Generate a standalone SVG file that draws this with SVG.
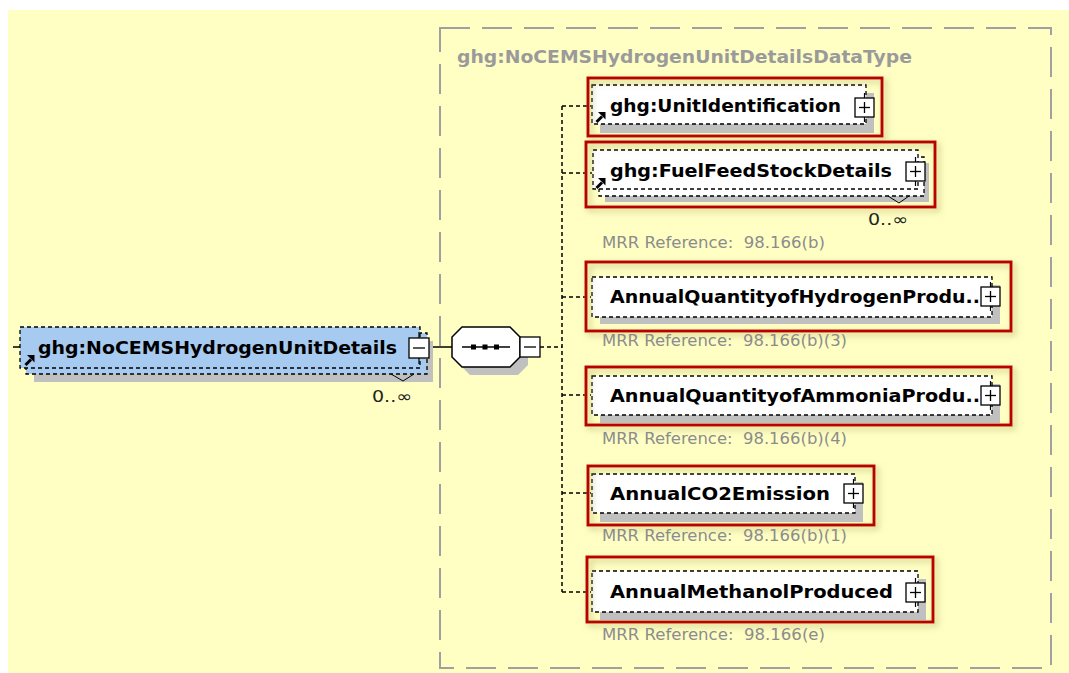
<svg xmlns="http://www.w3.org/2000/svg" xmlns:xlink="http://www.w3.org/1999/xlink" width="1069" height="673" viewBox="0 0 1069 673">
<style>
.bg{fill:#ffffc4}
.dtbox{fill:none;stroke:#a0a0a0;stroke-width:2;stroke-dasharray:30 12}
.hdr{font-family:"DejaVu Sans",Verdana,sans-serif;font-weight:bold;font-size:18px;fill:#9a9a9a}
.lbl{font-family:"DejaVu Sans",Verdana,sans-serif;font-weight:bold;font-size:18.5px;fill:#000}
.ref{font-family:"DejaVu Sans",Verdana,sans-serif;font-size:15.5px;fill:#8c8c8c;white-space:pre}
.occ{font-family:"DejaVu Sans",Verdana,sans-serif;font-size:16px;fill:#222}
.elem{fill:#fff;stroke:#000;stroke-width:1.3;stroke-dasharray:4 3}
.blue{fill:#a6caf0;stroke:#000;stroke-width:1.3;stroke-dasharray:4 3}
.shadow{fill:#c0c0c0}
.red{fill:none;stroke:#bb0000;stroke-width:3;filter:url(#glow)}
.conn{fill:none;stroke:#000;stroke-width:1.5;stroke-dasharray:4 3}
.solid{fill:none;stroke:#000;stroke-width:1.5}
.vmark{fill:none;stroke:#000;stroke-width:1}
</style>
<defs>
<filter id="glow" x="-10%" y="-20%" width="120%" height="150%">
<feDropShadow dx="3" dy="3" stdDeviation="3" flood-color="#a09850" flood-opacity="0.55"/>
</filter>
<g id="plus">
<line x1="9.5" y1="-5" x2="9.5" y2="24" stroke="#000" stroke-width="1.2"/>
<rect x="0" y="0" width="19" height="19" fill="#fff" stroke="#000" stroke-width="1.3"/>
<line x1="4" y1="9.5" x2="15" y2="9.5" stroke="#000" stroke-width="1.3"/>
<line x1="9.5" y1="4" x2="9.5" y2="15" stroke="#000" stroke-width="1.3"/>
</g>
<g id="minus">
<line x1="10" y1="-6" x2="10" y2="26" stroke="#000" stroke-width="1.2"/>
<rect x="0" y="0" width="20" height="20" fill="#fff" stroke="#000" stroke-width="1.3"/>
<line x1="4" y1="10" x2="16" y2="10" stroke="#000" stroke-width="1.3"/>
</g>
<g id="minus2">
<rect x="0" y="0" width="20" height="20" fill="#fff" stroke="#000" stroke-width="1.3"/>
<line x1="4" y1="10" x2="16" y2="10" stroke="#000" stroke-width="1.3"/>
</g>
<g id="refarrow">
<line x1="1.5" y1="10" x2="7" y2="4.5" stroke="#000" stroke-width="3"/>
<polygon points="3,0 10.5,0 10.5,7.5" fill="#000"/>
</g>
</defs>

<rect class="bg" x="8" y="10" width="1061" height="663"/>

<g id="datatype">
<rect class="dtbox" x="440" y="28" width="611" height="640"/>
<text class="hdr" x="457" y="63" textLength="455" lengthAdjust="spacingAndGlyphs">ghg:NoCEMSHydrogenUnitDetailsDataType</text>
</g>

<g id="connectors">
<line class="solid" x1="13" y1="347" x2="20" y2="347"/>
<line class="solid" x1="429" y1="347" x2="452" y2="347"/>
<line class="conn" x1="540" y1="347" x2="562" y2="347"/>
<line class="conn" x1="562" y1="106" x2="562" y2="592"/>
<line class="conn" x1="562" y1="106" x2="591" y2="106"/>
<line class="conn" x1="562" y1="173" x2="592" y2="173"/>
<line class="conn" x1="562" y1="297" x2="591" y2="297"/>
<line class="conn" x1="562" y1="395" x2="591" y2="395"/>
<line class="conn" x1="562" y1="493" x2="591" y2="493"/>
<line class="conn" x1="562" y1="592" x2="591" y2="592"/>
</g>

<g id="main">
<rect class="shadow" x="34" y="341" width="399" height="41"/>
<rect class="blue" x="26" y="333" width="401" height="41"/>
<rect class="blue" x="20" y="327" width="400" height="41"/>
<text class="lbl" x="38" y="354" textLength="359" lengthAdjust="spacingAndGlyphs">ghg:NoCEMSHydrogenUnitDetails</text>
<use xlink:href="#refarrow" x="24" y="355"/>
<use xlink:href="#minus" x="409" y="338"/>
<polyline class="vmark" points="391,374 403,381 414,374"/>
<text class="occ" x="372" y="402" textLength="40" lengthAdjust="spacingAndGlyphs">0..∞</text>
</g>

<g id="sequence">
<polygon class="shadow" points="470,335 518,335 528,345 528,365 518,375 470,375 460,365 460,345"/>
<polygon points="462,327 510,327 520,337 520,357 510,367 462,367 452,357 452,337" fill="#fff" stroke="#000" stroke-width="1.5"/>
<line x1="462" y1="347" x2="510" y2="347" stroke="#000" stroke-width="1.5"/>
<rect x="471" y="344.5" width="5" height="5" fill="#000"/>
<rect x="482.5" y="344.5" width="5" height="5" fill="#000"/>
<rect x="494" y="344.5" width="5" height="5" fill="#000"/>
<use xlink:href="#minus2" x="520" y="337"/>
</g>

<g id="unitIdentification">
<rect class="shadow" x="600" y="93" width="274" height="40"/>
<rect class="elem" x="592" y="85" width="274" height="39"/>
<text class="lbl" x="610" y="112" textLength="231" lengthAdjust="spacingAndGlyphs">ghg:UnitIdentification</text>
<use xlink:href="#refarrow" x="595" y="112"/>
<use xlink:href="#plus" x="855" y="98"/>
<rect class="red" x="588" y="78" width="294" height="58"/>
</g>

<g id="fuelFeedStockDetails">
<rect class="shadow" x="605" y="163" width="324" height="39"/>
<rect class="elem" x="599" y="157" width="325" height="39"/>
<rect class="elem" x="593" y="150" width="325" height="39"/>
<text class="lbl" x="610" y="177" textLength="282" lengthAdjust="spacingAndGlyphs">ghg:FuelFeedStockDetails</text>
<use xlink:href="#refarrow" x="595" y="178"/>
<use xlink:href="#plus" x="906" y="162"/>
<polyline class="vmark" points="888,196 899,203 909,196"/>
<rect class="red" x="586" y="142" width="349" height="65"/>
<text class="occ" x="868" y="225" textLength="40" lengthAdjust="spacingAndGlyphs">0..∞</text>
<text class="ref" x="602" y="248" textLength="223" lengthAdjust="spacingAndGlyphs">MRR Reference:  98.166(b)</text>
</g>

<g id="annualHydrogen">
<rect class="shadow" x="600" y="285" width="400" height="39"/>
<rect class="elem" x="592" y="277" width="400" height="40"/>
<text class="lbl" x="610" y="303" textLength="370" lengthAdjust="spacingAndGlyphs">AnnualQuantityofHydrogenProdu..</text>
<use xlink:href="#plus" x="981" y="287"/>
<rect class="red" x="586" y="262" width="425" height="69"/>
<text class="ref" x="602" y="346" textLength="245" lengthAdjust="spacingAndGlyphs">MRR Reference:  98.166(b)(3)</text>
</g>

<g id="annualAmmonia">
<rect class="shadow" x="600" y="384" width="400" height="39"/>
<rect class="elem" x="592" y="376" width="400" height="39"/>
<text class="lbl" x="610" y="402" textLength="370" lengthAdjust="spacingAndGlyphs">AnnualQuantityofAmmoniaProdu..</text>
<use xlink:href="#plus" x="981" y="386"/>
<rect class="red" x="586" y="367" width="425" height="58"/>
<text class="ref" x="602" y="444" textLength="245" lengthAdjust="spacingAndGlyphs">MRR Reference:  98.166(b)(4)</text>
</g>

<g id="annualCO2">
<rect class="shadow" x="600" y="482" width="263" height="40"/>
<rect class="elem" x="592" y="474" width="263" height="39"/>
<text class="lbl" x="610" y="500" textLength="220" lengthAdjust="spacingAndGlyphs">AnnualCO2Emission</text>
<use xlink:href="#plus" x="844" y="484"/>
<rect class="red" x="588" y="466" width="286" height="59"/>
<text class="ref" x="602" y="541" textLength="245" lengthAdjust="spacingAndGlyphs">MRR Reference:  98.166(b)(1)</text>
</g>

<g id="annualMethanol">
<rect class="shadow" x="600" y="579" width="326" height="41"/>
<rect class="elem" x="592" y="571" width="326" height="41"/>
<text class="lbl" x="610" y="598" textLength="283" lengthAdjust="spacingAndGlyphs">AnnualMethanolProduced</text>
<use xlink:href="#plus" x="906" y="583"/>
<rect class="red" x="587" y="557" width="346" height="65"/>
<text class="ref" x="602" y="640" textLength="223" lengthAdjust="spacingAndGlyphs">MRR Reference:  98.166(e)</text>
</g>
</svg>
